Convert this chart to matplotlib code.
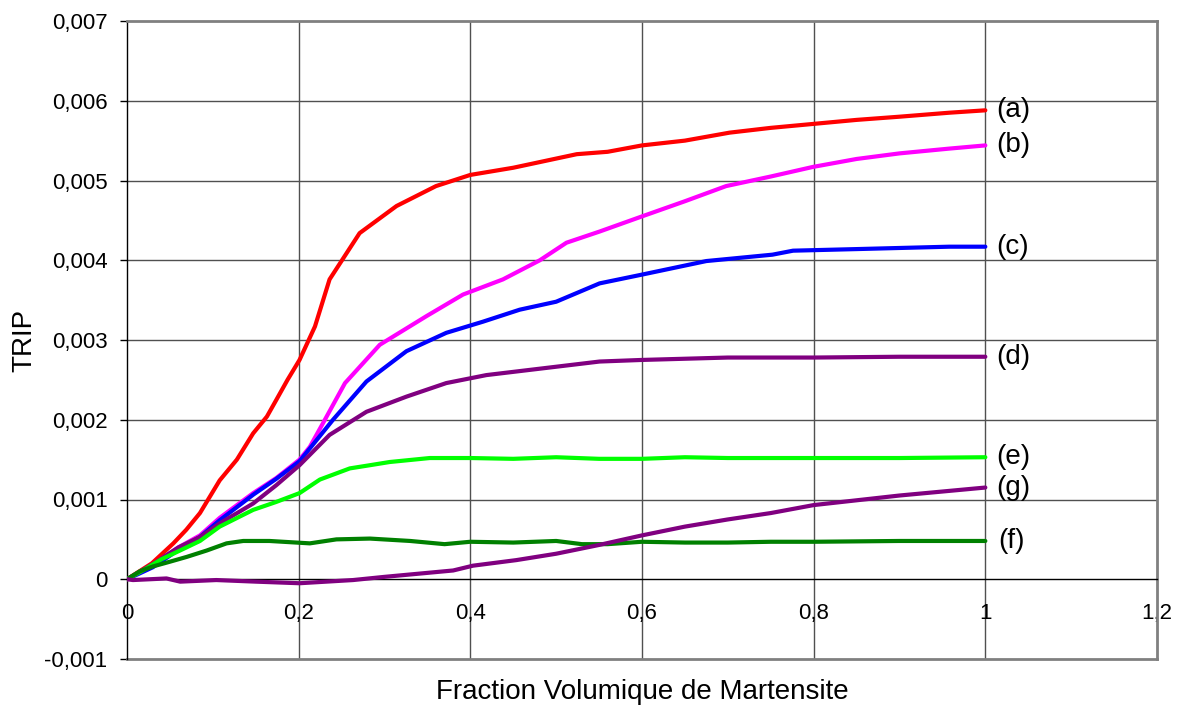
import matplotlib
matplotlib.use("Agg")
import matplotlib.pyplot as plt

# ---------------- data ----------------
x_ticks = [0, 0.2, 0.4, 0.6, 0.8, 1.0, 1.2]
x_tick_labels = ["0", "0,2", "0,4", "0,6", "0,8", "1", "1,2"]
y_ticks = [-0.001, 0, 0.001, 0.002, 0.003, 0.004, 0.005, 0.006, 0.007]
y_tick_labels = ["-0,001", "0", "0,001", "0,002", "0,003", "0,004", "0,005", "0,006", "0,007"]

a_x = [0, 0.029, 0.054, 0.069, 0.085, 0.108, 0.128, 0.147, 0.163, 0.174, 0.187, 0.201, 0.219, 0.236,
       0.271, 0.314, 0.36, 0.40, 0.45, 0.524, 0.56, 0.6, 0.65, 0.702, 0.75, 0.8, 0.85, 0.9, 0.958, 1.0]
a_y = [0, 0.0002, 0.00045, 0.00062, 0.00083, 0.00124, 0.0015, 0.00183, 0.00204, 0.00225, 0.0025,
       0.00275, 0.00317, 0.00376, 0.00434, 0.00468, 0.00493, 0.00507, 0.00516, 0.00533, 0.00536,
       0.00544, 0.0055, 0.0056, 0.00566, 0.00571, 0.00576, 0.0058, 0.00585, 0.00588]

b_x = [0, 0.03, 0.06, 0.085, 0.108, 0.147, 0.174, 0.201, 0.213, 0.2285, 0.254, 0.2945, 0.349, 0.3915,
       0.438, 0.481, 0.512, 0.5506, 0.6, 0.65, 0.698, 0.75, 0.799, 0.85, 0.9, 0.958, 1.0]
b_y = [0, 0.00018, 0.0004, 0.00055, 0.00077, 0.00108, 0.00127, 0.0015, 0.00166, 0.00196, 0.00246,
       0.00294, 0.0033, 0.00357, 0.00376, 0.004, 0.00422, 0.00436, 0.00455, 0.00474, 0.00493,
       0.00505, 0.00517, 0.00527, 0.00534, 0.0054, 0.00544]

c_x = [0, 0.03, 0.06, 0.085, 0.108, 0.147, 0.174, 0.201, 0.240, 0.279, 0.3256, 0.372, 0.4148, 0.4575,
       0.5, 0.5506, 0.6, 0.675, 0.752, 0.776, 0.85, 0.958, 1.0]
c_y = [0, 0.00015, 0.00037, 0.00053, 0.00074, 0.00106, 0.00126, 0.00148, 0.002, 0.00248, 0.00286,
       0.00309, 0.00323, 0.00338, 0.00348, 0.00371, 0.00382, 0.00399, 0.00407, 0.00412, 0.00414,
       0.00417, 0.00417]

d_x = [0, 0.03, 0.06, 0.085, 0.108, 0.147, 0.174, 0.201, 0.236, 0.279, 0.3256, 0.372, 0.4187,
       0.473, 0.5506, 0.6, 0.7, 0.8, 0.9, 1.0]
d_y = [0, 0.00019, 0.0004, 0.00053, 0.0007, 0.00095, 0.00118, 0.00143, 0.00181, 0.0021,
       0.00229, 0.00246, 0.00256, 0.00263, 0.00273, 0.00275, 0.00278, 0.00278, 0.00279, 0.00279]

e_x = [0, 0.02, 0.04, 0.0617, 0.085, 0.108, 0.147, 0.174, 0.201, 0.2247, 0.2596, 0.283, 0.306, 0.3527,
       0.4, 0.45, 0.5, 0.55, 0.6, 0.65, 0.7, 0.8, 0.9, 1.0]
e_y = [0, 0.00012, 0.00025, 0.00036, 0.00048, 0.00066, 0.00087, 0.00097, 0.00108, 0.00125, 0.00139,
       0.00143, 0.00147, 0.00152, 0.00152, 0.00151, 0.00153, 0.00151, 0.00151, 0.00153, 0.00152,
       0.00152, 0.00152, 0.00153]

f_x = [0, 0.015, 0.03, 0.05, 0.0695, 0.0928, 0.116, 0.1354, 0.166, 0.213, 0.244, 0.283, 0.33, 0.37,
       0.4, 0.45, 0.5, 0.53, 0.56, 0.6, 0.65, 0.7, 0.75, 0.8, 0.9, 1.0]
f_y = [0, 0.0001, 0.00016, 0.00022, 0.00028, 0.00036, 0.00045, 0.00048, 0.00048, 0.00045, 0.0005,
       0.00051, 0.00048, 0.00044, 0.00047, 0.00046, 0.00048, 0.00044, 0.00044, 0.00047, 0.00046,
       0.00046, 0.00047, 0.00047, 0.00048, 0.00048]

g_x = [0, 0.007, 0.046, 0.062, 0.104, 0.15, 0.201, 0.2634, 0.3, 0.35, 0.38, 0.403, 0.4536, 0.5, 0.55,
       0.6, 0.65, 0.7, 0.75, 0.8, 0.85, 0.9, 0.95, 1.0]
g_y = [0, -0.00001, 0.00001, -0.00003, -0.00001, -0.00003, -0.00005, -0.00001, 0.00003, 0.00008,
       0.00011, 0.00017, 0.00024, 0.00032, 0.00043, 0.00055, 0.00066, 0.00075, 0.00083, 0.00093,
       0.00099, 0.00105, 0.0011, 0.00115]

series_labels = ["(a)", "(b)", "(c)", "(d)", "(e)", "(f)", "(g)"]
series_x = [a_x, b_x, c_x, d_x, e_x, f_x, g_x]
series_y = [a_y, b_y, c_y, d_y, e_y, f_y, g_y]
series_colors = ["#FF0000", "#FF00FF", "#0000FF", "#800080", "#00FF00", "#008000", "#800080"]

# ---------------- plot ----------------
plt.rcParams['font.family'] = ['Liberation Sans', 'DejaVu Sans']

fig = plt.figure(figsize=(11.81, 7.08), dpi=100)
ax = fig.add_axes([127 / 1181, 1 - 659 / 708, 1030 / 1181, 638 / 708])

ax.set_xlim(0, 1.2)
ax.set_ylim(-0.001, 0.007)

grid_c = "#505050"
for yv in y_ticks:
    if yv not in (0, -0.001, 0.007):
        ax.axhline(yv, color=grid_c, lw=1.0, zorder=1)
for xv in x_ticks[1:-1]:
    ax.axvline(xv, color=grid_c, lw=1.0, zorder=1)

for xs, ys, col in zip(series_x, series_y, series_colors):
    ax.plot(xs, ys, color=col, lw=3.0, solid_capstyle='round', solid_joinstyle='round', zorder=3)

for xs, ys, lab in zip(series_x, series_y, series_labels):
    dx = 9 if lab == "(f)" else 7.5
    ax.annotate(lab, xy=(xs[-1], ys[-1]), xytext=(dx, 0), textcoords='offset points',
                fontsize=20, va='center', ha='left', zorder=4)

# spines / axes
ax.spines['bottom'].set_position(('data', 0))
ax.spines['bottom'].set_color('black')
ax.spines['bottom'].set_linewidth(1.0)
ax.spines['left'].set_color('black')
ax.spines['left'].set_linewidth(1.0)
for s in ('top', 'right'):
    ax.spines[s].set_color('#808080')
    ax.spines[s].set_linewidth(2.0)
ax.axhline(-0.001, color='#808080', lw=2.0, clip_on=False, zorder=2)

ax.set_xticks(x_ticks)
ax.set_xticklabels(x_tick_labels)
ax.set_yticks(y_ticks)
ax.set_yticklabels(y_tick_labels)
ax.tick_params(axis='x', length=0, pad=17, labelsize=16)
ax.tick_params(axis='y', direction='out', length=5, width=1, pad=9, labelsize=16)

ax.set_ylabel("TRIP", fontsize=20, va='center')
ax.yaxis.set_label_coords(-0.1, 0.5)
ax.set_xlabel("Fraction Volumique de Martensite", fontsize=20, va='center')
ax.xaxis.set_label_coords(0.5, -(692 - 659) / 638)

fig.savefig("out.png", dpi=100)
